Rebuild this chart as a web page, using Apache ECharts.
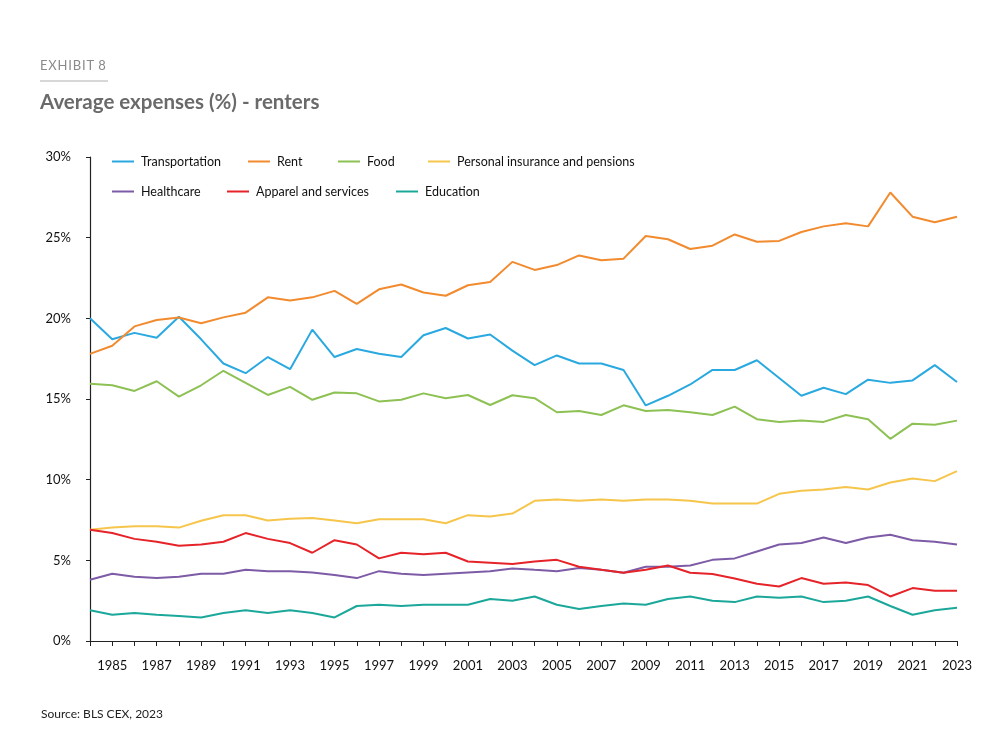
<!DOCTYPE html>
<html>
<head>
<meta charset="utf-8">
<script src="https://cdn.jsdelivr.net/npm/echarts@6/dist/echarts.min.js"></script>
<style>
html,body{margin:0;padding:0;background:#fff;}
#chart{width:1000px;height:749px;}
</style>
</head>
<body>
<div id="chart"></div>
<script>
const years = [];
for (let y = 1984; y <= 2023; y++) years.push(String(y));

const transportation = [20.0,18.7,19.1,18.8,20.1,18.7,17.2,16.6,17.6,16.85,19.3,17.6,18.1,17.8,17.6,18.95,19.4,18.75,19.0,
  18.0,17.1,17.7,17.2,17.2,16.8,14.6,15.2,15.9,16.8,16.8,17.4,16.3,15.2,15.7,15.3,16.2,16.0,16.15,17.1,16.05];
const rent = [17.8,18.3,19.5,19.9,20.05,19.7,20.06,20.35,21.3,21.1,21.3,21.7,20.9,21.8,22.1,21.6,21.4,22.05,22.25,
  23.5,23.0,23.3,23.9,23.6,23.7,25.1,24.9,24.3,24.5,25.2,24.75,24.8,25.35,25.7,25.9,25.7,27.8,26.3,25.95,26.3];
const food = [15.95,15.85,15.5,16.1,15.15,15.85,16.75,16.0,15.25,15.75,14.95,15.4,15.35,14.85,14.95,15.35,15.05,15.25,14.63,
  15.23,15.05,14.18,14.26,14.01,14.61,14.26,14.32,14.18,14.01,14.53,13.75,13.58,13.66,13.58,14.01,13.75,12.53,13.47,13.41,13.66];
const insurance = [6.89,7.03,7.12,7.12,7.03,7.45,7.8,7.8,7.47,7.57,7.63,7.47,7.3,7.55,7.55,7.55,7.3,7.8,7.72,
  7.9,8.69,8.77,8.69,8.77,8.69,8.77,8.77,8.69,8.52,8.52,8.52,9.12,9.31,9.39,9.55,9.39,9.82,10.07,9.91,10.53];
const healthcare = [3.8,4.17,3.98,3.9,3.98,4.17,4.17,4.41,4.33,4.33,4.25,4.09,3.9,4.33,4.17,4.09,4.17,4.25,4.33,
  4.5,4.41,4.33,4.52,4.41,4.23,4.6,4.6,4.68,5.03,5.12,5.55,5.98,6.07,6.42,6.07,6.42,6.58,6.25,6.15,5.98];
const apparel = [6.89,6.69,6.33,6.15,5.9,5.98,6.15,6.69,6.33,6.07,5.47,6.25,5.98,5.12,5.47,5.38,5.47,4.93,4.85,
  4.77,4.93,5.03,4.6,4.41,4.23,4.41,4.68,4.23,4.15,3.88,3.55,3.38,3.9,3.55,3.63,3.47,2.76,3.28,3.11,3.11];
const education = [1.9,1.63,1.73,1.63,1.55,1.46,1.73,1.9,1.73,1.9,1.73,1.46,2.17,2.25,2.17,2.25,2.25,2.25,2.6,
  2.5,2.76,2.25,1.98,2.17,2.33,2.25,2.6,2.76,2.5,2.41,2.76,2.68,2.76,2.41,2.5,2.76,2.17,1.63,1.9,2.06];

const yTicks = [0, 5, 10, 15, 20, 25, 30];

const seriesDefs = [
  {name:'Transportation', data:transportation, color:'#2aa9e0', left:112, top:155},
  {name:'Rent', data:rent, color:'#f28a2e', left:248, top:155},
  {name:'Food', data:food, color:'#8dc153', left:338, top:155},
  {name:'Personal insurance and pensions', data:insurance, color:'#f6c54b', left:428, top:155},
  {name:'Healthcare', data:healthcare, color:'#7d5ba6', left:112, top:185},
  {name:'Apparel and services', data:apparel, color:'#e52329', left:227, top:185},
  {name:'Education', data:education, color:'#1ba89a', left:396, top:185}
];

const FONT = 'Lato, "Noto Sans", sans-serif';
const chart = echarts.init(document.getElementById('chart'), null, {renderer:'canvas'});

const option = {
  backgroundColor:'#fff',
  animation:false,
  textStyle:{fontFamily:FONT},
  grid:{left:90, right:43, top:157, bottom:108, containLabel:false},
  legend: seriesDefs.map(s => ({
    data:[s.name],
    left:s.left, top:s.top,
    padding:0,
    icon:'rect', itemWidth:22, itemHeight:2,
    itemGap:0,
    textStyle:{fontFamily:FONT, fontSize:12.5, color:'#111', padding:[0,0,0,2]},
    selectedMode:false
  })),
  xAxis:{
    type:'category',
    data:years,
    boundaryGap:false,
    axisLine:{show:true, lineStyle:{color:'#222', width:1.2}},
    axisTick:{show:true, interval:0, length:5, lineStyle:{color:'#222'}},
    axisLabel:{
      interval:function(i){return i % 2 === 1;},
      margin:18, fontSize:13, color:'#111', fontFamily:FONT
    },
    splitLine:{show:false}
  },
  yAxis:{
    type:'value',
    min:yTicks[0], max:yTicks[yTicks.length-1], interval:5,
    axisLine:{show:true, lineStyle:{color:'#222', width:1.2}},
    axisTick:{show:true, length:4, lineStyle:{color:'#222'}},
    axisLabel:{formatter:'{value}%', margin:19, fontSize:13, color:'#111', fontFamily:FONT},
    splitLine:{show:false}
  },
  graphic:[
    {type:'text', left:40, top:59, style:{text:'E X H I B I T  8'.replace(/ (?! )/g,'\u200A').replace(/  /g,' '), fontSize:13, fill:'#8a8a8a', fontFamily:FONT}},
    {type:'line', shape:{x1:40, y1:81, x2:108, y2:81}, style:{stroke:'#b0b0b0', lineWidth:1}},
    {type:'text', left:40, top:92, style:{text:'Average expenses (%) - renters', fontSize:20.5, fontWeight:'bold', fill:'#6a6a6a', fontFamily:FONT}},
    {type:'text', left:41, top:708, style:{text:'Source: BLS CEX, 2023', fontSize:12, fill:'#222', fontFamily:FONT}}
  ],
  series: seriesDefs.map(s => ({
    name:s.name, type:'line', data:s.data,
    symbol:'none', smooth:false,
    lineStyle:{color:s.color, width:2},
    itemStyle:{color:s.color},
    emphasis:{disabled:true}
  }))
};
chart.setOption(option);
</script>
</body>
</html>
